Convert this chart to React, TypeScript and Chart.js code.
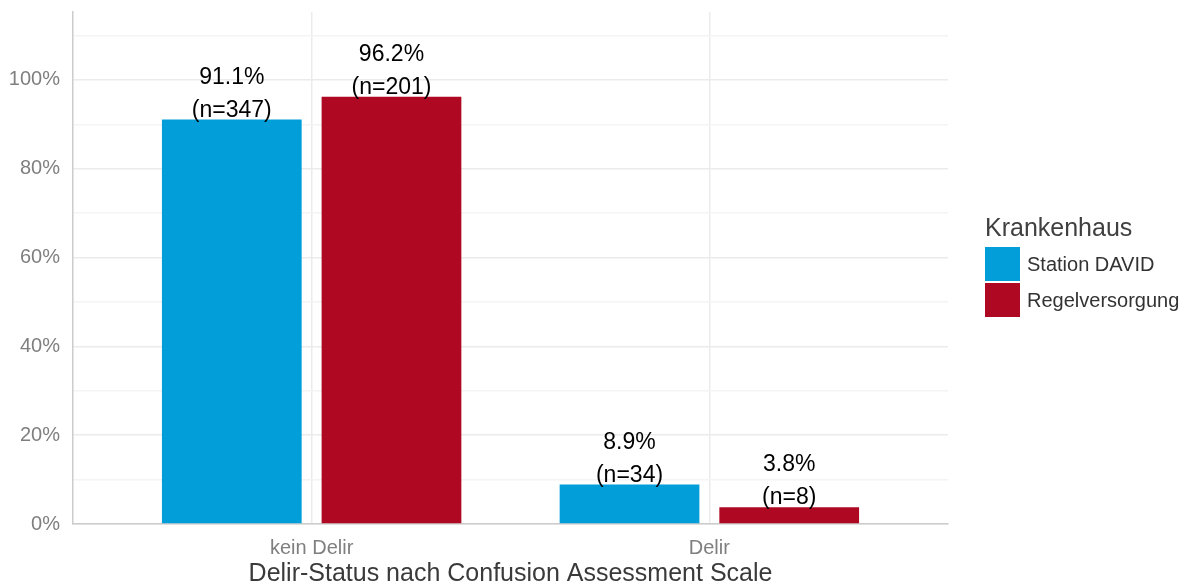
import React, { useEffect, useRef } from "react";
import { Chart, registerables } from "chart.js";

Chart.register(...registerables);

const categories = ["kein Delir", "Delir"];
const seriesNames = ["Station DAVID", "Regelversorgung"];
const stationDavid = [91.1, 8.9];
const regelversorgung = [96.2, 3.8];
const stationDavidN = [347, 34];
const regelversorgungN = [201, 8];
const yTickValues = [0, 10, 20, 30, 40, 50, 60, 70, 80, 90, 100, 110];
const colors = ["#019ED9", "#AE0822"];
const xTitle = "Delir-Status nach Confusion Assessment Scale";
const legendTitle = "Krankenhaus";

const FONT = "'Liberation Sans', Arial, sans-serif";

const labelPlugin = {
  id: "barLabels",
  afterDatasetsDraw(chart: any) {
    const ctx = chart.ctx;
    const ns = [stationDavidN, regelversorgungN];
    ctx.save();
    ctx.fillStyle = "#000000";
    ctx.font = `23px ${FONT}`;
    ctx.textAlign = "center";
    ctx.textBaseline = "middle";
    chart.data.datasets.forEach((ds: any, di: number) => {
      const meta = chart.getDatasetMeta(di);
      meta.data.forEach((el: any, i: number) => {
        const v = ds.data[i].y;
        ctx.fillText(`${v.toFixed(1)}%`, el.x, el.y - 42);
        ctx.fillText(`(n=${ns[di][i]})`, el.x, el.y - 9);
      });
    });
    ctx.restore();
  },
};

const legendPlugin = {
  id: "customLegend",
  afterDraw(chart: any) {
    const ctx = chart.ctx;
    ctx.save();
    ctx.textAlign = "left";
    ctx.textBaseline = "middle";
    ctx.fillStyle = "#404040";
    ctx.font = `25px ${FONT}`;
    ctx.fillText(legendTitle, 985, 229);
    seriesNames.forEach((name, i) => {
      const top = 247 + i * 36;
      ctx.fillStyle = colors[i];
      ctx.fillRect(985, top, 35, 34);
      ctx.fillStyle = "#333333";
      ctx.font = `20px ${FONT}`;
      ctx.fillText(name, 1027, top + 18);
    });
    ctx.restore();
  },
};

export default function App() {
  const ref = useRef<HTMLCanvasElement>(null);
  useEffect(() => {
    document.body.style.margin = "0";
    const canvas = ref.current!;
    const chart = new Chart(canvas, {
      type: "bar",
      data: {
        datasets: [
          {
            label: seriesNames[0],
            data: stationDavid.map((v, i) => ({ x: i + 1, y: v })),
            backgroundColor: colors[0],
            categoryPercentage: 0.803,
            barPercentage: 0.875,
          },
          {
            label: seriesNames[1],
            data: regelversorgung.map((v, i) => ({ x: i + 1, y: v })),
            backgroundColor: colors[1],
            categoryPercentage: 0.803,
            barPercentage: 0.875,
          },
        ],
      },
      options: {
        responsive: false,
        animation: false,
        layout: { padding: { top: 12, right: 242, left: 0, bottom: 0 } },
        plugins: { legend: { display: false }, tooltip: { enabled: false } },
        scales: {
          x: {
            type: "linear",
            min: 0.4,
            max: 2.6,
            offset: false,
            afterBuildTicks: (s: any) => {
              s.ticks = categories.map((_, i) => ({ value: i + 1 }));
            },
            afterFit: (s: any) => {
              s.height = 63;
              s.paddingLeft = 0;
              s.paddingRight = 0;
            },
            ticks: {
              padding: 12,
              color: "#7f7f7f",
              font: { family: FONT, size: 20 },
              callback: (v: any) => categories[Math.round(v) - 1] ?? "",
              autoSkip: false,
              maxRotation: 0,
            },
            grid: { color: "#ebebeb", lineWidth: 1.5, drawTicks: false, offset: false },
            border: { display: true, color: "#cccccc", width: 1.5 },
            title: {
              display: true,
              text: xTitle,
              color: "#3a3a3a",
              font: { family: FONT, size: 25, lineHeight: 1.0 },
              padding: { top: 0, bottom: 0 },
            },
          },
          y: {
            type: "linear",
            min: 0,
            max: 115.3,
            afterBuildTicks: (s: any) => {
              s.ticks = yTickValues.map((v) => ({ value: v }));
            },
            afterFit: (s: any) => {
              s.width = 73;
              s.paddingTop = 0;
              s.paddingBottom = 0;
            },
            ticks: {
              padding: 13,
              color: "#7f7f7f",
              font: { family: FONT, size: 20 },
              callback: (v: any) => (v % 20 === 0 && v <= 100 ? `${v}%` : ""),
            },
            grid: {
              color: (c: any) => (c.tick && c.tick.value % 20 === 0 ? "#ebebeb" : "#f4f4f4"),
              lineWidth: 1.5,
              drawTicks: false,
            },
            border: { display: true, color: "#cccccc", width: 1.5 },
          },
        },
      },
      plugins: [labelPlugin, legendPlugin],
    });
    return () => chart.destroy();
  }, []);
  return (
    <div style={{ width: 1190, height: 587, background: "#ffffff" }}>
      <canvas ref={ref} width={1190} height={587} />
    </div>
  );
}
